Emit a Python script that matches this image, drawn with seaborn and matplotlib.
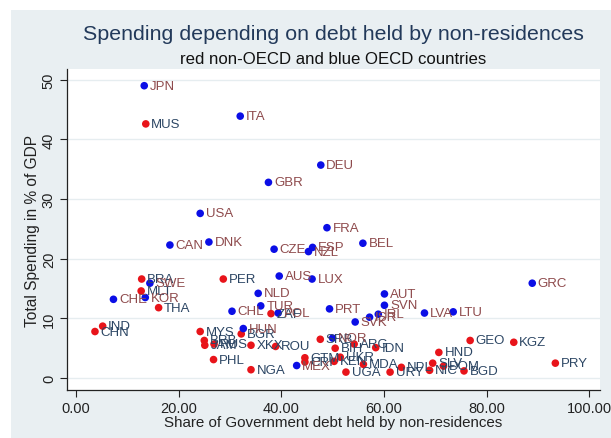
import matplotlib
matplotlib.use("Agg")
import matplotlib.pyplot as plt
from matplotlib.patches import Rectangle
import pandas as pd
import seaborn as sns

# OECD members
oecd_codes = ["JPN", "ITA", "DEU", "GBR", "USA", "FRA", "BEL", "ESP", "NZL", "CZE",
              "CAN", "DNK", "SWE", "KOR", "CHE", "AUS", "LUX", "NLD", "TUR", "CHL",
              "POL", "PRT", "SVK", "AUT", "SVN", "ISR", "IRL", "LVA", "LTU", "GRC",
              "HUN", "MEX", "NOR"]
oecd_debt_share = [13.3, 32.0, 47.7, 37.5, 24.2, 48.9, 55.9, 46.1, 45.3, 38.6,
                   18.3, 25.9, 14.4, 13.5, 7.3, 39.6, 46.0, 35.5, 36.0, 30.4,
                   39.4, 49.4, 54.4, 60.1, 60.1, 57.2, 58.9, 67.9, 73.5, 88.9,
                   32.6, 43.0, 50.0]
oecd_spending = [49.0, 43.9, 35.7, 32.8, 27.6, 25.2, 22.6, 21.9, 21.2, 21.6,
                 22.3, 22.8, 15.9, 13.5, 13.2, 17.1, 16.6, 14.2, 12.1, 11.2,
                 10.9, 11.6, 9.4, 14.1, 12.2, 10.2, 10.7, 10.9, 11.1, 15.9,
                 8.3, 2.1, 6.7]

# Non-OECD countries
non_oecd_codes = ["MUS", "BRA", "MLT", "THA", "IND", "CHN", "PER", "ZAF", "MYS", "BGR",
                  "BRB", "JAM", "RUS", "XKX", "ROU", "PHL", "NGA", "SRB", "BIH", "ARG",
                  "IDN", "GTM", "CRI", "KEN", "UKR", "MDA", "UGA", "URY", "NPL", "NIC",
                  "SLV", "DOM", "BGD", "HND", "GEO", "KGZ", "PRY"]
non_oecd_debt_share = [13.6, 12.8, 12.7, 16.1, 5.2, 3.7, 28.7, 38.0, 24.2, 32.2,
                       25.0, 25.1, 26.9, 34.1, 38.9, 26.8, 34.1, 47.6, 50.5, 54.2,
                       58.4, 44.6, 44.6, 50.3, 51.5, 56.0, 52.6, 61.2, 63.4, 68.9,
                       69.5, 71.6, 75.6, 70.7, 76.8, 85.3, 93.4]
non_oecd_spending = [42.6, 16.6, 14.6, 11.8, 8.7, 7.8, 16.6, 10.8, 7.8, 7.4,
                     6.3, 5.5, 5.7, 5.5, 5.3, 3.1, 1.4, 6.5, 5.0, 5.7,
                     5.1, 3.4, 2.7, 2.8, 3.5, 2.3, 1.0, 1.0, 1.8, 1.3,
                     2.5, 2.0, 1.2, 4.3, 6.3, 6.0, 2.5]

x_ticks = [0, 20, 40, 60, 80, 100]
y_ticks = [0, 10, 20, 30, 40, 50]

df = pd.concat([
    pd.DataFrame({"code": non_oecd_codes, "share": non_oecd_debt_share,
                  "spend": non_oecd_spending, "group": "non-OECD"}),
    pd.DataFrame({"code": oecd_codes, "share": oecd_debt_share,
                  "spend": oecd_spending, "group": "OECD"}),
], ignore_index=True)

bg = "#e9eff2"
marker_colors = {"non-OECD": "#e8141a", "OECD": "#0b0ee6"}
label_colors = {"non-OECD": "#2c4664", "OECD": "#8e4a4c"}

sns.set_theme(style="white")
plt.rcParams["font.family"] = ["Liberation Sans", "DejaVu Sans"]

fig = plt.figure(figsize=(6.11, 4.39), dpi=100, facecolor="white")
fig.patches.append(Rectangle((11 / 611, 0), 1 - 11 / 611, 1 - 11 / 439,
                             transform=fig.transFigure, facecolor=bg,
                             edgecolor="none", zorder=-10))
ax = fig.add_axes([67 / 611, 1 - 391 / 439, (600 - 67) / 611, (391 - 70) / 439])
ax.set_facecolor("white")

sns.scatterplot(data=df, x="share", y="spend", hue="group", palette=marker_colors,
                s=30, linewidth=0, legend=False, ax=ax, zorder=3)

for _, row in df.iterrows():
    ax.annotate(row["code"], (row["share"], row["spend"]), xytext=(4, 0),
                textcoords="offset points", va="center", ha="left",
                fontsize=9.5, color=label_colors[row["group"]], zorder=4)

ax.set_xlim(-1.75, 102.1)
ax.set_ylim(-2.0, 51.8)
ax.set_xticks(x_ticks)
ax.set_xticklabels([f"{v:.2f}" for v in x_ticks])
ax.set_yticks(y_ticks)
ax.set_yticklabels([str(v) for v in y_ticks], rotation=90, va="center")
ax.grid(axis="y", color="#e6edf0", linewidth=1.0, zorder=0)
ax.grid(axis="x", visible=False)
for side in ["top", "right"]:
    ax.spines[side].set_visible(False)
for side in ["left", "bottom"]:
    ax.spines[side].set_color("#222222")
    ax.spines[side].set_linewidth(0.9)
ax.tick_params(axis="both", length=5, width=0.8, color="#222222",
               labelsize=10.5, labelcolor="#222222", pad=3, direction="out",
               bottom=True, left=True)

ax.set_xlabel("Share of Government debt held by non-residences", fontsize=10.9,
              color="#222222", labelpad=0)
ax.set_ylabel("Total Spending in % of GDP", fontsize=11.2, color="#222222",
              labelpad=1)

fig.text(0.545, 1 - 35 / 439, "Spending depending on debt held by non-residences",
         ha="center", va="center", fontsize=15.4, color="#22395a")
fig.text(0.545, 1 - 59 / 439, "red non-OECD and blue OECD countries",
         ha="center", va="center", fontsize=12.1, color="#111111")

fig.savefig("out.png", dpi=100, facecolor=fig.get_facecolor())
